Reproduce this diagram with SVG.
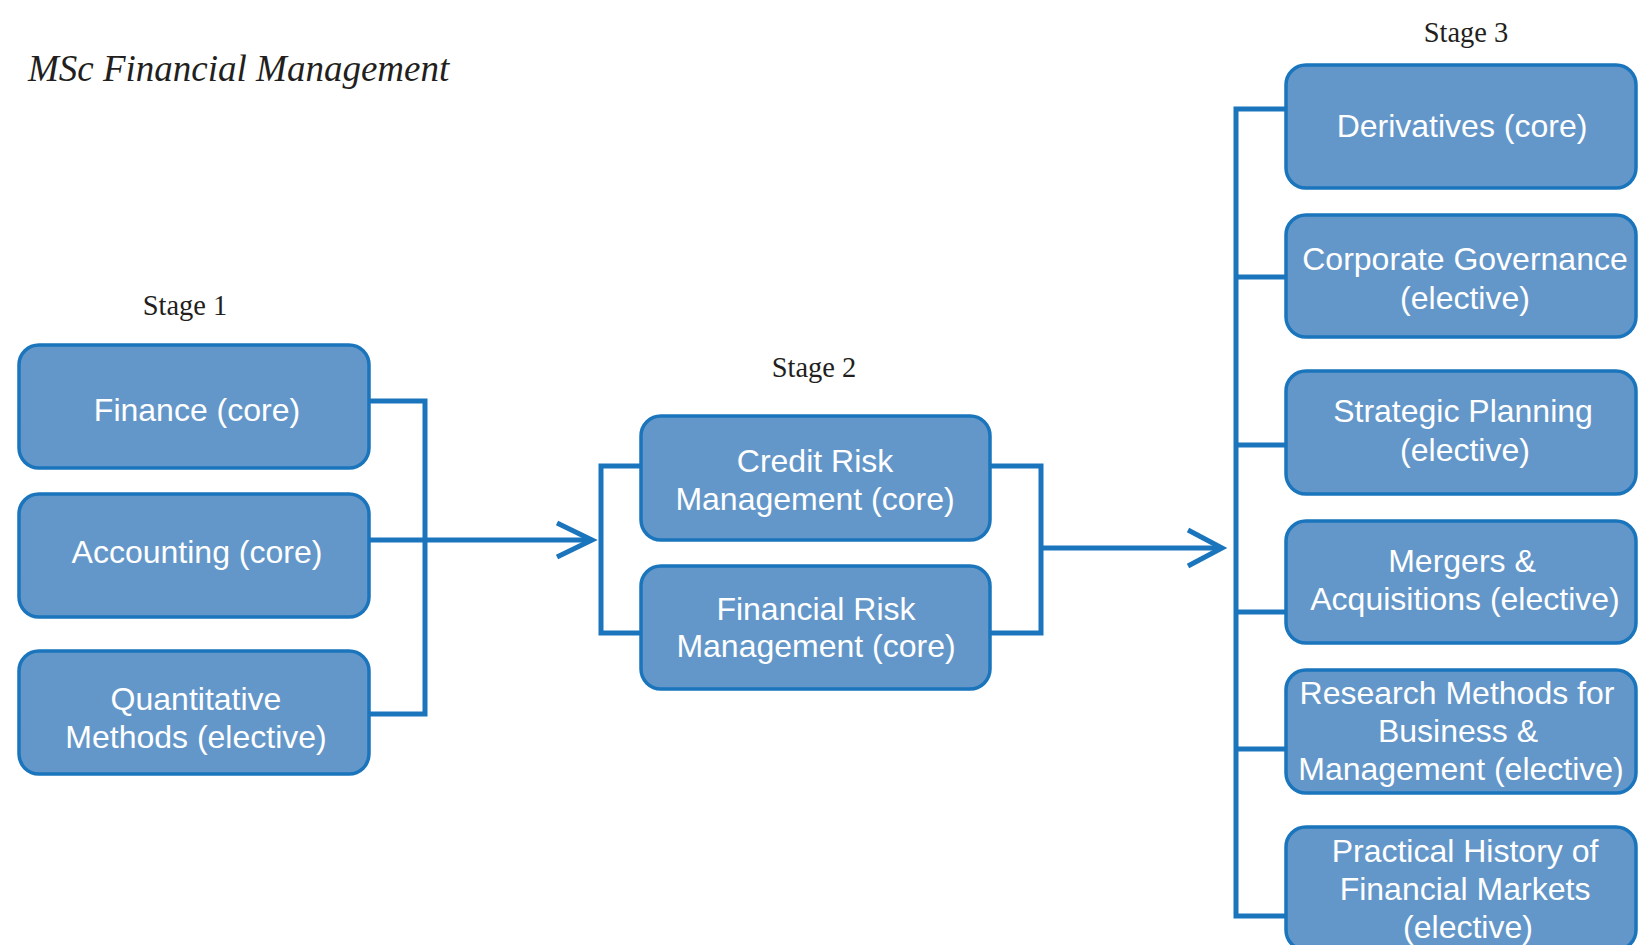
<svg xmlns="http://www.w3.org/2000/svg" width="1644" height="945" viewBox="0 0 1644 945">
<style>
.box{fill:#6497C9;stroke:#1A75BC;stroke-width:3.5}
.lbl{font-family:"Liberation Sans",Arial,sans-serif;font-size:32px;fill:#ffffff;text-anchor:middle}
.stage{font-family:"Liberation Serif","Times New Roman",serif;font-size:28.5px;fill:#231F20;text-anchor:middle}
.title{font-family:"Liberation Serif","Times New Roman",serif;font-style:italic;font-size:37px;fill:#231F20}
.conn{fill:none;stroke:#1A75BC;stroke-width:5}
</style>
<rect width="1644" height="945" fill="#ffffff"/>
<text class="title" x="28" y="81">MSc Financial Management</text>
<text class="stage" x="185" y="315">Stage 1</text>
<text class="stage" x="814" y="377">Stage 2</text>
<text class="stage" x="1466" y="42">Stage 3</text>
<g id="connectors">
<path class="conn" d="M369 401H425V714H369"/>
<path class="conn" d="M369 540H592"/>
<path class="conn" d="M557 523L592 540L557 557"/>
<path class="conn" d="M641 466H601V633H641"/>
<path class="conn" d="M990 466H1041V633H990"/>
<path class="conn" d="M1041 548H1222"/>
<path class="conn" d="M1188 530L1222 548L1188 566"/>
<path class="conn" d="M1286 109H1236V916H1286"/>
<path class="conn" d="M1236 277H1286M1236 445H1286M1236 612H1286M1236 749H1286"/>
</g>
<g id="finance"><rect class="box" x="19" y="345" width="350" height="123" rx="20"/><text class="lbl" x="197" y="421">Finance (core)</text></g>
<g id="accounting"><rect class="box" x="19" y="494" width="350" height="123" rx="20"/><text class="lbl" x="197" y="563">Accounting (core)</text></g>
<g id="quant"><rect class="box" x="19" y="651" width="350" height="123" rx="20"/><text class="lbl" x="196" y="710">Quantitative</text><text class="lbl" x="196" y="748">Methods (elective)</text></g>
<g id="credit"><rect class="box" x="641" y="416" width="349" height="124" rx="20"/><text class="lbl" x="815" y="472">Credit Risk</text><text class="lbl" x="815" y="510">Management (core)</text></g>
<g id="finrisk"><rect class="box" x="641" y="566" width="349" height="123" rx="20"/><text class="lbl" x="816" y="620">Financial Risk</text><text class="lbl" x="816" y="657">Management (core)</text></g>
<g id="derivatives"><rect class="box" x="1286" y="65" width="350" height="123" rx="20"/><text class="lbl" x="1462" y="137">Derivatives (core)</text></g>
<g id="governance"><rect class="box" x="1286" y="215" width="350" height="122" rx="20"/><text class="lbl" x="1465" y="270">Corporate Governance</text><text class="lbl" x="1465" y="309">(elective)</text></g>
<g id="strategic"><rect class="box" x="1286" y="371" width="350" height="123" rx="20"/><text class="lbl" x="1463" y="422">Strategic Planning</text><text class="lbl" x="1465" y="461">(elective)</text></g>
<g id="mergers"><rect class="box" x="1286" y="521" width="350" height="122" rx="20"/><text class="lbl" x="1462" y="572">Mergers &amp;</text><text class="lbl" x="1465" y="610">Acquisitions (elective)</text></g>
<g id="research"><rect class="box" x="1286" y="670" width="350" height="123" rx="20"/><text class="lbl" x="1457" y="704">Research Methods for</text><text class="lbl" x="1458" y="742">Business &amp;</text><text class="lbl" x="1461" y="780">Management (elective)</text></g>
<g id="history"><rect class="box" x="1286" y="827" width="350" height="123" rx="20"/><text class="lbl" x="1465" y="862">Practical History of</text><text class="lbl" x="1465" y="900">Financial Markets</text><text class="lbl" x="1468" y="938">(elective)</text></g>
</svg>
